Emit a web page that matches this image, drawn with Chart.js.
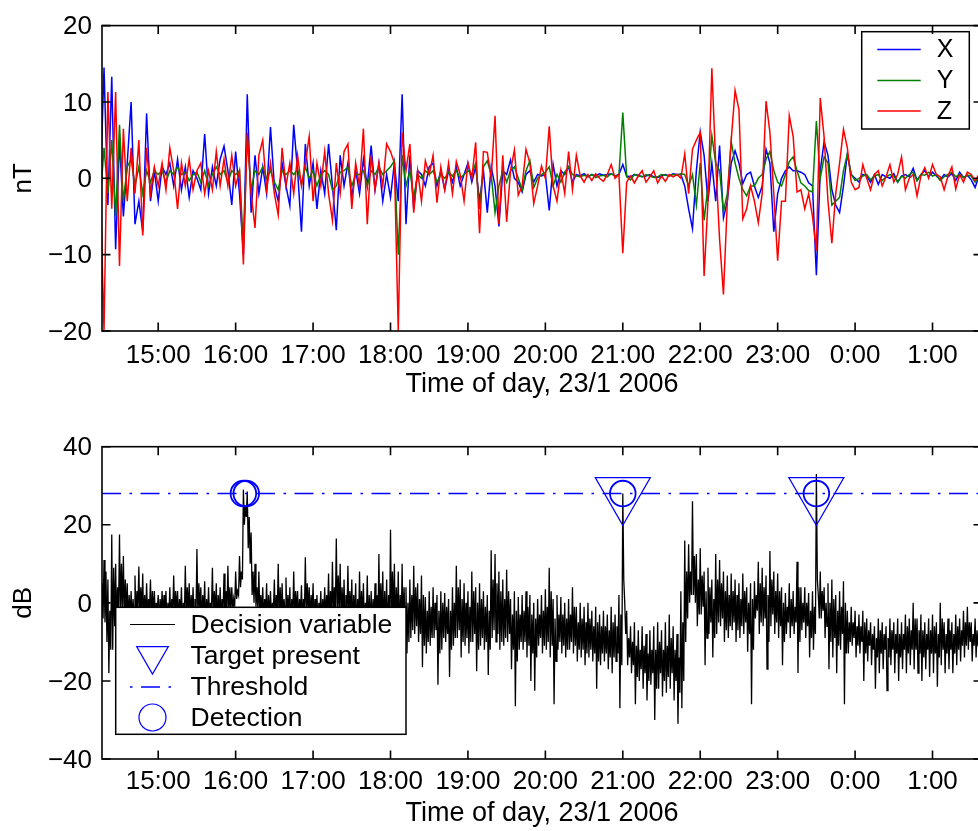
<!DOCTYPE html>
<html><head><meta charset="utf-8">
<script src="https://cdn.jsdelivr.net/npm/chart.js@4.4.1/dist/chart.umd.min.js"></script>
<style>
html,body{margin:0;padding:0;background:#fff;overflow:hidden;width:978px;height:831px}
#c1{position:absolute;left:0;top:0}
#c2{position:absolute;left:0;top:420px}
</style></head><body>
<canvas id="c1" width="990" height="415"></canvas>
<canvas id="c2" width="990" height="411"></canvas>
<script>
// ---- sampling grid (hours of day, 3-minute samples starting 14:15) ----
const T0 = 14.25, DT = 0.05;
const X_MIN = 14.274, X_MAX = 25.639;

// ---- tick values / labels ----
const hourTicks  = [15,16,17,18,19,20,21,22,23,24,25];
const hourLabels = ['15:00','16:00','17:00','18:00','19:00','20:00','21:00','22:00','23:00','0:00','1:00'];
const nTTicks = [-20,-10,0,10,20];
const dBTicks = [-40,-20,0,20,40];

// ---- magnetometer components (nT) ----
const magX = [
 -2,14.5,-3.5,13.3,-9.3,5,-5,2,10,-6,
 -3,-7,8.5,-3,1,-3,1.5,0.5,2,-1,
 2.5,-1.5,1.5,-2.5,1,0,-1.5,5.8,-2,1.5,
 -1,2.5,4.2,1,-3.5,3.5,-2,-10,11,-4.5,
 3,-2,1.5,-2,6.7,-1,-3,2,-1,-3.6,
 7,1,-7,4.5,-1,2,-4,1,-2,4.5,
 -1,-6.8,3,-1,2,-2.5,1,-2,2.5,-1,
 4.3,-1.5,2,-3,0.5,-2.5,2,-3,11,-6,
 3,-4,1,0.5,-1,1.5,2,-1,1,-1.5,
 1,-0.5,1.5,-1,0.5,2,-0.5,1.5,-3,1,
 -4.5,1.5,-1,-6.3,1,0.5,2.4,0,-0.5,-1.8,
 0.5,1,-0.5,0.5,0.3,0.5,-4.2,1.8,-1,1,
 0.5,1.5,-0.5,0.5,0.3,0.6,0.2,0.5,0.3,0.6,
 0.4,0.5,0.6,0.3,0.5,1.8,0.3,0.2,0.5,0.4,
 0.2,0.3,0.5,0.2,0.1,0.3,0.5,0.3,0.6,0.5,
 0.5,-1,-4,-6.6,1,6.1,3,-3,2,-3,
 4.3,-5.2,-3,2,3.6,2,-0.7,0.5,0.8,-1,
 -2.5,-1,3.8,2,-7,-2,0,1,1.5,1,
 1,0.8,0.5,-0.6,-1,-12.7,1,4.8,3,-1.5,
 -3.5,-4.5,-1,3.2,0.5,0,-0.5,0.5,0.3,-0.5,
 0.5,-0.8,0.5,0.2,0,0.6,-0.5,0.3,0.5,0.2,
 1.3,-0.3,0.5,1,0.2,0.8,0.3,-0.2,0.5,0.2,
 0.6,-0.3,0.8,0.1,0.4,-0.2,-1.2,0.3,0
];
const magY = [
 -3,4,-2,5,-5,7,-3,1.5,2.5,-1,
 1.5,-2,1,-0.5,1,0.5,1,-0.5,1,0.5,
 1.5,0.5,0.8,-0.3,0.5,0.8,-0.5,1,-1,0.5,
 1.5,0.5,1,-0.5,1,0.5,1,-9,5.5,-1.5,
 1,0.5,1.5,0,1,-0.5,-1.5,1,0.5,1,
 0.5,1.2,-0.8,1.5,0,1,-1,0.5,1,0.5,
 -1.5,-1,0.8,1,1.5,-1,0.5,0.5,1,-1,
 1,0.5,1.5,0.5,1,1.5,2.3,-10,3,-1,
 1,-2.5,0.5,0,1,0.5,1,-0.5,0.5,0,
 0.8,0.3,1,0,0.5,1,0.5,2,-4,1.5,
 2.3,0.5,-4.5,-1,1,-0.5,1,1.5,0,-1.5,
 1,2.3,-1.2,0,0.5,0.8,1.5,-1,0.5,-0.5,
 0.8,1.5,0.5,0.3,0.2,0.4,0.2,0.5,0.1,0.3,
 0.4,0.2,0.6,0.3,0.4,8.6,0.2,-0.2,0.5,0.3,
 0.2,0.5,0.3,0.1,0.2,0.5,0.4,0.3,0.5,0.4,
 0.6,0.5,-1,0.5,-3.5,2,-5.5,-1,5.6,2,
 1,-4.3,-2,4.8,2,0,-1.5,-2.3,-1,-1,
 0,0.5,2.5,3.5,1,-0.5,-1,0.5,2.2,2.8,
 1,-0.6,-1,-1.6,-1.8,7.5,0,2.8,2,-3.5,
 -3,-2.5,1,3.2,0.5,-0.3,0,0.3,0.5,-0.2,
 0.3,0.5,-0.3,0.2,0.5,0.3,-0.5,0.3,0,0.5,
 0.8,-0.3,0.5,0.4,0.8,0.3,0.5,-0.3,0.2,0.5,
 0.8,0.2,0.5,0.1,0.4,0.3,-0.5,0.2,0
];
const magZ = [
 0,-20,11.3,-4,11.3,-11.5,6.5,-3,4,-2,
 5,-7.5,4,-2,1.5,-1,2,-1.5,4,1,
 -4,2,-1,2.5,-1.5,1,2,-2,1,-1.5,
 3.5,-1,2.5,-1,3,-1,1,-11.3,6,-2,
 -6.5,3,5,-1.5,2,-2,-4.8,4,-1,2,
 -2,3,-1,2,5.5,-3,2,-1,3.5,-2,
 -5.5,2,-2,3.5,4.5,-4,2,-1,6.5,-6,
 3,-1.5,2,-1,4.5,3.5,2,-20,6,1,
 4.5,-4.5,1,-3,2.3,0.5,3,-3.2,1.5,-1.5,
 2,-2,2.2,0.5,-3,2,0,4.7,-7.2,3.5,
 3.4,0,8.2,-6,3,-5.7,1,3.7,-2.2,-1,
 3.8,2,-3.3,-1,1.6,0,6.8,-1,-3,1,
 -2,3.5,-1.5,3,0.3,-0.5,0.5,-0.3,0.6,0,
 -0.4,0.5,1.8,0,0.5,-9.8,-0.5,0.3,-0.6,0.3,
 1,-0.5,0.2,1,-0.6,0.3,-0.4,0.5,0.2,0.5,
 0,3.2,-2,3.8,5,6,-12.8,-3,14.4,2,
 -8,-15.2,-3,5,11.5,9,-5.3,-4,-1,-3,
 -5.8,-2,10.1,6,-2,-10.8,-3,-3,8.2,5.5,
 -1.8,-1.5,-4,-2,-5,-9.5,10.5,5.4,-3,-8.5,
 -2,2,6.4,4,-0.5,-1.5,-1.2,1.8,0,-1.5,
 0.5,1,-1,0.2,1.8,-0.5,0.5,2.8,-1.5,0,
 0.5,-2.3,0.3,1.4,0,1.8,0.5,0.2,-1.5,0.3,
 1.5,-1.4,0.5,-0.5,0.8,0.5,-0.3,0.5,-0.3
];

// ---- decision variable (dB): four readings per 3-minute sample:
//      first swing (high, low) and second swing (high2, low2) ----
const dvHigh = [
 12,11,6,17.5,10,17.5,12,5,3,7,
 9.3,7.5,5,6,3,2,3,3,4,7,
 3,4,9.5,5,4,13.8,4,5.5,4,9,
 5,4,7.5,9.5,4,8,12,29,28.5,18,
 10,8,4,5,3,6,10,5,6.5,4,
 8,3,4.5,11.7,4,5,2,3,4,7.5,
 10.5,16.5,10,6,9.5,6,5,8,5,7,
 3,5,12.5,8,6,18.7,10,8,10,4,
 6,9.5,5,7,1.5,3,4,2,3,2.5,
 1,4,9.5,6,5,3,8,4,5,3,
 2,13.5,12.5,8,6,8.5,1,3,1.5,2,
 3,2,0,1,2,3.5,9,1,2,1.5,
 0,1,4,-1,0,-1,0,-2,-1,-3,
 -2,-3,-1,-3,2,28,-2,-6,-5,-7,
 -6,-8,-7,-6,-5,-7,-5,-3,-6,-8,
 3,16,15,26,12.5,14,8,9,6,12.5,
 11,8,7,7.5,6,5,7.5,4,5,5.5,
 10.5,9,7,13.3,8,7.5,4,2.5,5,3,
 10.5,4,4,2.5,3,33,8,4,5,6,
 2,3,5.5,-2,-1,-2,-3,-2,-4,-5,
 -6,-4,-5,-6,-4,-5,-4,-5,-3,-4,
 0,-4,-3,-5,-4,-3,-5,0,-5,-4,
 -5,-3,-4,-2,-1,-5,-4,-5,-6
];
const dvLow = [
 -8,-5,-18,-12,-6,-4,-5,-6,-5,-4,
 -5,-6,-4,-5,-4,-5,-4,-6,-5,-4,
 -5,-6,-4,-5,-6,-4,-5,-6,-4,-5,
 -6,-4,-5,-3,-2,1,4,20,14,2,
 -1,-4,-5,-6,-4,-5,-6,-4,-5,-6,
 -4,-5,-6,-4,-5,-6,-5,-6,-5,-6,
 -5,-4,-6,-5,-6,-7,-8,-6,-7,-8,
 -6,-9,-7,-8,-9,-6,-8,-10,-7,-13,
 -9,-8,-10,-16.5,-13,-11,-9,-21,-12,-10,
 -19,-11,-9,-14,-11,-13,-10,-17.5,-11,-12,
 -18.5,-9,-10,-12,-11,-10,-17,-26.5,-12,-12,
 -14,-20,-22.5,-11,-13,-12,-14,-26,-12,-13,
 -14,-12,-13,-15,-14,-16,-14,-15,-22,-16,
 -15,-17,-18,-15,-27,6,-16,-18,-26,-20,
 -22,-25,-21,-30,-22,-24,-23,-22,-25,-31,
 -27,-10,0,2,-6,-3,-16,-8,-14,-8,
 -6,-10,-9,-7,-10,-9,-8,-12.5,-26,-4,
 -8,-6,-17,-6,-8,-9,-16,-8,-9,-8,
 -18,-7,-9,-14,-12,6,-4,-9,-17,-14,
 -18,-12,-26,-13,-11,-14,-13,-20,-15,-16,
 -22,-18,-17,-22.5,-16,-18,-20,-17,-18,-16,
 -17,-18,-20,-17,-19,-18,-21.5,-16,-18,-17,
 -18,-16,-15,-14,-12,-15,-14,-12,-11
];
const dvHigh2 = [
 5,8,-2,9,4,10,6,2,1,3,
 4,2,1,3,0,1,2,0,1,3,
 1,0,4,2,1,5,2,1,0,3,
 2,1,3,4,1,3,8,25,22,8,
 4,2,1,2,0,2,4,1,2,1,
 3,1,1,5,2,1,0,1,2,3,
 4,7,4,2,3,2,1,3,0,2,
 1,2,5,3,2,8,4,2,4,0,
 2,4,1,2,-2,-1,0,-2,0,-1,
 -2,0,4,1,0,-1,3,0,1,-1,
 -2,6,5,3,1,3,-3,-2,-3,-2,
 -1,-3,-4,-3,-2,-1,3,-4,-3,-3,
 -4,-3,-1,-5,-4,-5,-4,-6,-5,-6,
 -6,-7,-5,-6,-3,0,-9,-10,-11,-12,
 -11,-13,-12,-12,-10,-12,-11,-9,-12,-14,
 -5,8,8,12,6,7,3,4,1,6,
 5,3,2,3,2,1,3,0,1,2,
 5,4,2,6,3,3,0,-1,1,-1,
 4,0,0,-2,-1,2,3,0,0,1,
 -2,-1,0,-5,-5,-6,-6,-5,-7,-8,
 -9,-7,-8,-9,-7,-8,-8,-8,-6,-7,
 -4,-7,-7,-8,-7,-6,-8,-4,-8,-7,
 -8,-6,-7,-5,-5,-8,-7,-8,-8
];
const dvLow2 = [
 -4,-10,-12,-6,-3,-2,-3,-4,-3,-2,
 -3,-4,-2,-3,-2,-3,-2,-4,-3,-2,
 -3,-4,-2,-3,-4,-2,-3,-4,-2,-3,
 -4,-2,-3,-2,-1,2,6,22,10,0,
 -2,-3,-3,-4,-2,-3,-4,-2,-3,-4,
 -2,-3,-4,-2,-3,-4,-3,-4,-3,-4,
 -3,-2,-4,-3,-4,-5,-6,-4,-5,-6,
 -5,-7,-5,-6,-7,-4,-6,-8,-5,-10,
 -7,-6,-8,-11,-10,-9,-7,-13,-9,-8,
 -12,-9,-7,-10,-9,-10,-8,-12,-9,-10,
 -12,-7,-8,-10,-9,-8,-12,-15,-10,-10,
 -11,-13,-14,-9,-11,-10,-11,-15,-10,-11,
 -12,-10,-11,-12,-12,-13,-12,-13,-15,-13,
 -13,-14,-14,-13,-16,-8,-14,-16,-19,-17,
 -18,-20,-18,-22,-18,-20,-19,-18,-20,-23,
 -20,-4,2,0,-3,-1,-9,-5,-9,-5,
 -4,-7,-6,-5,-7,-6,-5,-8,-12,-2,
 -5,-4,-10,-3,-5,-6,-10,-5,-6,-5,
 -10,-5,-6,-9,-8,-4,-2,-6,-10,-9,
 -11,-8,-13,-10,-9,-11,-10,-13,-11,-12,
 -14,-13,-12,-14,-12,-13,-14,-12,-13,-12,
 -12,-13,-14,-12,-13,-13,-14,-12,-13,-12,
 -13,-12,-11,-11,-10,-11,-11,-10,-9
];
const thresholdDB = 28;
const targetTimes = [21.0, 23.5];
const detectionTimes = [16.1, 16.137, 21.0, 23.5];

// ---------------------------------------------------------------------------
const FONT = 'Liberation Sans, Arial, Helvetica, sans-serif';
const FS = 26;
Chart.defaults.font.family = FONT;
Chart.defaults.color = '#000';
const BLUE = '#0000ff', GREEN = '#008000', RED = '#ff0000';

const fmtNum = v => v < 0 ? '\u2212' + Math.abs(v) : String(v);
const hourLabel = v => hourLabels[hourTicks.indexOf(v)];
const toXY = arr => arr.map((v, i) => ({x: T0 + i * DT, y: v}));

function frameAndTicks(chart) {
  const {ctx, chartArea: a, scales} = chart;
  const TL = 8.5;
  ctx.save();
  ctx.strokeStyle = '#000';
  ctx.lineWidth = 1.6;
  ctx.beginPath();
  scales.x.ticks.forEach(tk => {
    const px = scales.x.getPixelForValue(tk.value);
    ctx.moveTo(px, a.bottom); ctx.lineTo(px, a.bottom - TL);
    ctx.moveTo(px, a.top); ctx.lineTo(px, a.top + TL);
  });
  scales.y.ticks.forEach(tk => {
    const py = scales.y.getPixelForValue(tk.value);
    ctx.moveTo(a.left, py); ctx.lineTo(a.left + TL, py);
    ctx.moveTo(a.right, py); ctx.lineTo(a.right - TL, py);
  });
  ctx.stroke();
  ctx.strokeRect(a.left, a.top, a.right - a.left, a.bottom - a.top);
  ctx.restore();
}

function drawLegend(chart, spec) {
  const ctx = chart.ctx;
  const [l, t, r, b] = spec.box;
  ctx.save();
  ctx.fillStyle = '#fff';
  ctx.fillRect(l, t, r - l, b - t);
  ctx.lineWidth = 1.5;
  ctx.strokeStyle = '#000';
  ctx.strokeRect(l, t, r - l, b - t);
  spec.items.forEach((it, k) => {
    const ds = chart.data.datasets[it.ds];
    const y = spec.rowY[k];
    ctx.strokeStyle = it.color;
    ctx.lineWidth = it.lw || 1.5;
    ctx.setLineDash([]);
    ctx.beginPath();
    if (it.kind === 'line') {
      if (it.dash) { ctx.setLineDash(it.dash); ctx.lineDashOffset = it.dashOffset || 0; }
      ctx.moveTo(spec.x1, y); ctx.lineTo(spec.x2, y);
    } else if (it.kind === 'triangle') {
      const cx = (spec.x1 + spec.x2) / 2, R = it.r;
      ctx.moveTo(cx, y + R);
      ctx.lineTo(cx - R * Math.sqrt(3) / 2, y - R / 2);
      ctx.lineTo(cx + R * Math.sqrt(3) / 2, y - R / 2);
      ctx.closePath();
    } else if (it.kind === 'circle') {
      const cx = (spec.x1 + spec.x2) / 2;
      ctx.arc(cx, y, it.r, 0, Math.PI * 2);
    }
    ctx.stroke();
    ctx.setLineDash([]);
    ctx.fillStyle = '#000';
    ctx.font = spec.font + 'px ' + FONT;
    ctx.textAlign = 'left';
    ctx.textBaseline = 'middle';
    ctx.fillText(ds.label, spec.tx, y + 1);
  });
  ctx.restore();
}

function xScale(tickPad, titlePadBottom, height) {
  return {
    type: 'linear', min: X_MIN, max: X_MAX,
    grid: {display: false, drawTicks: false}, border: {display: false},
    afterBuildTicks: s => { s.ticks = hourTicks.map(v => ({value: v})); },
    afterFit: s => { s.height = height; },
    ticks: {autoSkip: false, maxRotation: 0, padding: tickPad, font: {size: FS}, callback: v => hourLabel(v)},
    title: {display: true, text: 'Time of day, 23/1 2006', font: {size: 27}, padding: {top: 0, bottom: titlePadBottom}}
  };
}
function yScale(vals, label) {
  return {
    min: vals[0], max: vals[vals.length - 1],
    grid: {display: false, drawTicks: false}, border: {display: false},
    afterBuildTicks: s => { s.ticks = vals.map(v => ({value: v})); },
    afterFit: s => { s.width = 102; },
    ticks: {padding: 10, labelOffset: 1.5, font: {size: FS}, callback: v => fmtNum(v)},
    title: {display: true, text: label, font: {size: FS}, padding: {top: 8.6, bottom: 0}}
  };
}

// ---------------- top chart ----------------
new Chart(document.getElementById('c1'), {
  type: 'line',
  data: {datasets: [
    {label: 'X', data: toXY(magX), borderColor: BLUE, borderWidth: 1.5, pointRadius: 0, order: 2},
    {label: 'Y', data: toXY(magY), borderColor: GREEN, borderWidth: 1.5, pointRadius: 0, order: 1},
    {label: 'Z', data: toXY(magZ), borderColor: RED, borderWidth: 1.5, pointRadius: 0, order: 0}
  ]},
  options: {
    responsive: false, animation: false, devicePixelRatio: 1,
    layout: {autoPadding: false, padding: {left: 0, right: 8, top: 19.5, bottom: 0}},
    plugins: {legend: {display: false}, tooltip: {enabled: false}},
    scales: {x: xScale(9.5, 14, 84), y: yScale(nTTicks, 'nT')}
  },
  plugins: [{
    id: 'deco1',
    afterDatasetsDraw(chart) {
      drawLegend(chart, {
        box: [861.7, 31.7, 969.3, 129], rowY: [49.5, 80.5, 111], x1: 877.3, x2: 920.7, tx: 936.7, font: 25,
        items: [{ds: 0, kind: 'line', color: BLUE}, {ds: 1, kind: 'line', color: GREEN}, {ds: 2, kind: 'line', color: RED}]
      });
    },
    afterDraw: frameAndTicks
  }]
});

// ---------------- bottom chart ----------------
const dvData = [];
dvHigh.forEach((v, i) => {
  const t = T0 + i * DT;
  dvData.push({x: t, y: v});
  dvData.push({x: t + DT / 4, y: dvLow[i]});
  dvData.push({x: t + DT / 2, y: dvHigh2[i]});
  dvData.push({x: t + 3 * DT / 4, y: dvLow2[i]});
});
const DASHDOT = [19, 8.5, 2.5, 8.5];

new Chart(document.getElementById('c2'), {
  type: 'line',
  data: {datasets: [
    {label: 'Decision variable', data: dvData, borderColor: '#000', borderWidth: 1.3, pointRadius: 0, order: 3},
    {label: 'Target present', data: targetTimes.map(t => ({x: t, y: thresholdDB})), showLine: false,
     pointStyle: 'triangle', rotation: 180, pointRadius: 31.8, pointBorderWidth: 1.2,
     borderColor: BLUE, pointBorderColor: BLUE, pointBackgroundColor: 'rgba(0,0,0,0)', order: 1},
    {label: 'Threshold', data: [{x: X_MIN, y: thresholdDB}, {x: X_MAX, y: thresholdDB}], borderColor: BLUE,
     borderWidth: 1.6, borderDash: DASHDOT, pointRadius: 0, order: 2},
    {label: 'Detection', data: detectionTimes.map(t => ({x: t, y: thresholdDB})), showLine: false,
     pointStyle: 'circle', pointRadius: 12.8, pointBorderWidth: 1.8,
     borderColor: BLUE, pointBorderColor: BLUE, pointBackgroundColor: 'rgba(0,0,0,0)', order: 0}
  ]},
  options: {
    responsive: false, animation: false, devicePixelRatio: 1,
    layout: {autoPadding: false, padding: {left: 0, right: 8, top: 26.7, bottom: 0}},
    plugins: {legend: {display: false}, tooltip: {enabled: false}},
    scales: {x: xScale(7.5, 1.5, 72), y: yScale(dBTicks, 'dB')}
  },
  plugins: [{
    id: 'deco2',
    afterDatasetsDraw(chart) {
      drawLegend(chart, {
        box: [115.7, 187.3, 406, 314.3], rowY: [204.5, 235.8, 267, 297.5], x1: 130, x2: 175, tx: 190.5, font: 26.5,
        items: [
          {ds: 0, kind: 'line', color: '#000', lw: 1.2},
          {ds: 1, kind: 'triangle', r: 18.3, color: BLUE, lw: 1.2},
          {ds: 2, kind: 'line', dash: DASHDOT, dashOffset: 27.5, lw: 1.6, color: BLUE},
          {ds: 3, kind: 'circle', r: 13.5, color: BLUE, lw: 1.2}
        ]
      });
    },
    afterDraw: frameAndTicks
  }]
});
</script>
</body></html>
